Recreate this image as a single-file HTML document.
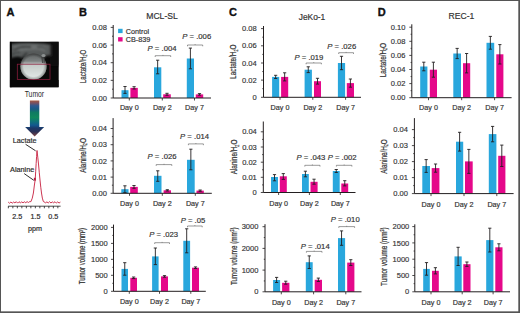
<!DOCTYPE html><html><head><meta charset="utf-8"><style>html,body{margin:0;padding:0;background:#fff;}svg{display:block;font-family:"Liberation Sans", sans-serif;}</style></head><body>
<svg width="520" height="313" viewBox="0 0 520 313">
<rect x="0" y="0" width="520" height="313" fill="#fff"/>
<text x="6.6" y="16.4" font-size="11" text-anchor="start" fill="#111" font-weight="bold" font-style="normal" stroke="#111" stroke-width="0.35" >A</text>
<text x="79.0" y="16.4" font-size="11" text-anchor="start" fill="#111" font-weight="bold" font-style="normal" stroke="#111" stroke-width="0.35" >B</text>
<text x="229.0" y="16.4" font-size="11" text-anchor="start" fill="#111" font-weight="bold" font-style="normal" stroke="#111" stroke-width="0.35" >C</text>
<text x="377.8" y="16.4" font-size="11" text-anchor="start" fill="#111" font-weight="bold" font-style="normal" stroke="#111" stroke-width="0.35" >D</text>
<text x="162" y="19.2" font-size="8.6" text-anchor="middle" fill="#333333" font-weight="normal" font-style="normal" stroke="#333333" stroke-width="0.18" >MCL-SL</text>
<text x="312.0" y="20.3" font-size="8.4" text-anchor="middle" fill="#333333" font-weight="normal" font-style="normal" stroke="#333333" stroke-width="0.18" >JeKo-1</text>
<text x="461.4" y="19.2" font-size="8.6" text-anchor="middle" fill="#333333" font-weight="normal" font-style="normal" stroke="#333333" stroke-width="0.18" >REC-1</text>
<rect x="118.1" y="28.8" width="4.5" height="4.3" fill="#29a7dd"/>
<rect x="118.1" y="37.2" width="4.5" height="4.3" fill="#e5088a"/>
<text x="125.8" y="33.6" font-size="7.25" text-anchor="start" fill="#333333" font-weight="normal" font-style="normal" stroke="#333333" stroke-width="0.18" >Control</text>
<text x="125.8" y="42.0" font-size="7.25" text-anchor="start" fill="#333333" font-weight="normal" font-style="normal" stroke="#333333" stroke-width="0.18" >CB-839</text>
<rect x="121.5" y="90.2" width="7.0" height="7.799999999999997" fill="#29a7dd"/>
<rect x="130.4" y="87.9" width="7.400000000000006" height="10.099999999999994" fill="#e5088a"/>
<path d="M125.0 86.5V93.4M123.4 86.5H126.6M123.4 93.4H126.6" stroke="#231f20" stroke-width="0.9" fill="none"/>
<path d="M134.10000000000002 86.7V89M132.50000000000003 86.7H135.70000000000002M132.50000000000003 89H135.70000000000002" stroke="#231f20" stroke-width="0.9" fill="none"/>
<rect x="154.0" y="67.3" width="7.300000000000011" height="30.700000000000003" fill="#29a7dd"/>
<rect x="163.2" y="94.3" width="7.600000000000023" height="3.700000000000003" fill="#e5088a"/>
<path d="M157.65 60.2V73.8M156.05 60.2H159.25M156.05 73.8H159.25" stroke="#231f20" stroke-width="0.9" fill="none"/>
<path d="M167.0 93.3V95.3M165.4 93.3H168.6M165.4 95.3H168.6" stroke="#231f20" stroke-width="0.9" fill="none"/>
<rect x="186.8" y="58.5" width="7.199999999999989" height="39.5" fill="#29a7dd"/>
<rect x="195.8" y="94.4" width="7.399999999999977" height="3.5999999999999943" fill="#e5088a"/>
<path d="M190.4 48.1V68.8M188.8 48.1H192.0M188.8 68.8H192.0" stroke="#231f20" stroke-width="0.9" fill="none"/>
<path d="M199.5 93.6V95.2M197.9 93.6H201.1M197.9 95.2H201.1" stroke="#231f20" stroke-width="0.9" fill="none"/>
<path d="M113.2 25V98H211" stroke="#231f20" stroke-width="1" fill="none"/>
<path d="M110.7 27.4H113.2M110.7 45.05H113.2M110.7 62.7H113.2M110.7 80.35H113.2M110.7 98H113.2M112.0 36.224999999999994H113.2M112.0 53.875H113.2M112.0 71.525H113.2M112.0 89.175H113.2M129.3 98V100.5M162.3 98V100.5M194.5 98V100.5" stroke="#231f20" stroke-width="0.8" fill="none"/>
<text transform="translate(107.00 30.00) scale(0.93 1)" font-size="8.1" text-anchor="end" fill="#333333" stroke="#333333" stroke-width="0.16">0.08</text>
<text transform="translate(107.00 47.65) scale(0.93 1)" font-size="8.1" text-anchor="end" fill="#333333" stroke="#333333" stroke-width="0.16">0.06</text>
<text transform="translate(107.00 65.30) scale(0.93 1)" font-size="8.1" text-anchor="end" fill="#333333" stroke="#333333" stroke-width="0.16">0.04</text>
<text transform="translate(107.00 82.95) scale(0.93 1)" font-size="8.1" text-anchor="end" fill="#333333" stroke="#333333" stroke-width="0.16">0.02</text>
<text transform="translate(107.00 100.60) scale(0.93 1)" font-size="8.1" text-anchor="end" fill="#333333" stroke="#333333" stroke-width="0.16">0.00</text>
<text x="129.3" y="110.2" font-size="7.2" text-anchor="middle" fill="#333333" font-weight="normal" font-style="normal" stroke="#333333" stroke-width="0.18" >Day 0</text>
<text x="162.3" y="110.2" font-size="7.2" text-anchor="middle" fill="#333333" font-weight="normal" font-style="normal" stroke="#333333" stroke-width="0.18" >Day 2</text>
<text x="194.5" y="110.2" font-size="7.2" text-anchor="middle" fill="#333333" font-weight="normal" font-style="normal" stroke="#333333" stroke-width="0.18" >Day 7</text>
<text x="147.6" y="51.300000000000004" font-size="7.7" fill="#333333" stroke="#333333" stroke-width="0.18"><tspan font-style="italic">P</tspan> = .004</text>
<path d="M155.2 57.0V55.7H170.7V57.0M162.95 55.7V54.900000000000006" stroke="#555" stroke-width="0.6" fill="none"/>
<text x="182.3" y="39.300000000000004" font-size="7.7" fill="#333333" stroke="#333333" stroke-width="0.18"><tspan font-style="italic">P</tspan> = .006</text>
<path d="M187.5 46.3V45.0H202.7V46.3M195.1 45.0V44.2" stroke="#555" stroke-width="0.6" fill="none"/>
<text transform="translate(85.6 66.4) rotate(-90) scale(0.7091,1)" font-size="8.8" text-anchor="middle" fill="#333333" stroke="#333333" stroke-width="0.22">Lactate/H<tspan font-size="5" dy="1.6">2</tspan><tspan dy="-1.6">O</tspan></text>
<rect x="121.3" y="189.2" width="7.200000000000003" height="4.100000000000023" fill="#29a7dd"/>
<rect x="130.2" y="186.9" width="7.600000000000023" height="6.400000000000006" fill="#e5088a"/>
<path d="M124.9 185.8V192.6M123.30000000000001 185.8H126.5M123.30000000000001 192.6H126.5" stroke="#231f20" stroke-width="0.9" fill="none"/>
<path d="M134.0 185.5V188.3M132.4 185.5H135.6M132.4 188.3H135.6" stroke="#231f20" stroke-width="0.9" fill="none"/>
<rect x="154.0" y="175.8" width="7.5" height="17.5" fill="#29a7dd"/>
<rect x="163.6" y="190.3" width="7.400000000000006" height="3.0" fill="#e5088a"/>
<path d="M157.75 170.8V181.3M156.15 170.8H159.35M156.15 181.3H159.35" stroke="#231f20" stroke-width="0.9" fill="none"/>
<path d="M167.3 189.7V191.0M165.70000000000002 189.7H168.9M165.70000000000002 191.0H168.9" stroke="#231f20" stroke-width="0.9" fill="none"/>
<rect x="187.0" y="159.8" width="7.699999999999989" height="33.5" fill="#29a7dd"/>
<rect x="196.5" y="190.6" width="7.300000000000011" height="2.700000000000017" fill="#e5088a"/>
<path d="M190.85 149.2V169.8M189.25 149.2H192.45M189.25 169.8H192.45" stroke="#231f20" stroke-width="0.9" fill="none"/>
<path d="M200.15 190.0V191.3M198.55 190.0H201.75M198.55 191.3H201.75" stroke="#231f20" stroke-width="0.9" fill="none"/>
<path d="M113.1 118.1V193.3H211.8" stroke="#231f20" stroke-width="1" fill="none"/>
<path d="M110.6 128.5H113.1M110.6 144.7H113.1M110.6 160.9H113.1M110.6 177.1H113.1M110.6 193.3H113.1M111.89999999999999 136.6H113.1M111.89999999999999 152.8H113.1M111.89999999999999 169.0H113.1M111.89999999999999 185.2H113.1M129.5 193.3V195.8M162.3 193.3V195.8M195.3 193.3V195.8" stroke="#231f20" stroke-width="0.8" fill="none"/>
<text transform="translate(107.00 131.10) scale(0.93 1)" font-size="8.1" text-anchor="end" fill="#333333" stroke="#333333" stroke-width="0.16">0.04</text>
<text transform="translate(107.00 147.30) scale(0.93 1)" font-size="8.1" text-anchor="end" fill="#333333" stroke="#333333" stroke-width="0.16">0.03</text>
<text transform="translate(107.00 163.50) scale(0.93 1)" font-size="8.1" text-anchor="end" fill="#333333" stroke="#333333" stroke-width="0.16">0.02</text>
<text transform="translate(107.00 179.70) scale(0.93 1)" font-size="8.1" text-anchor="end" fill="#333333" stroke="#333333" stroke-width="0.16">0.01</text>
<text transform="translate(107.00 195.90) scale(0.93 1)" font-size="8.1" text-anchor="end" fill="#333333" stroke="#333333" stroke-width="0.16">0.00</text>
<text x="129.5" y="206.3" font-size="7.2" text-anchor="middle" fill="#333333" font-weight="normal" font-style="normal" stroke="#333333" stroke-width="0.18" >Day 0</text>
<text x="162.3" y="206.3" font-size="7.2" text-anchor="middle" fill="#333333" font-weight="normal" font-style="normal" stroke="#333333" stroke-width="0.18" >Day 2</text>
<text x="195.3" y="206.3" font-size="7.2" text-anchor="middle" fill="#333333" font-weight="normal" font-style="normal" stroke="#333333" stroke-width="0.18" >Day 7</text>
<text x="147.6" y="159.29999999999998" font-size="7.7" fill="#333333" stroke="#333333" stroke-width="0.18"><tspan font-style="italic">P</tspan> = .026</text>
<path d="M156.2 165.9V164.6H171.8V165.9M164.0 164.6V163.79999999999998" stroke="#555" stroke-width="0.6" fill="none"/>
<text x="180.1" y="138.5" font-size="7.7" fill="#333333" stroke="#333333" stroke-width="0.18"><tspan font-style="italic">P</tspan> = .014</text>
<path d="M188.4 145.20000000000002V143.9H203.4V145.20000000000002M195.9 143.9V143.1" stroke="#555" stroke-width="0.6" fill="none"/>
<text transform="translate(85.8 155.5) rotate(-90) scale(0.7273,1)" font-size="8.8" text-anchor="middle" fill="#333333" stroke="#333333" stroke-width="0.22">Alanine/H<tspan font-size="5" dy="1.6">2</tspan><tspan dy="-1.6">O</tspan></text>
<rect x="121.5" y="268.9" width="6.5" height="22.400000000000034" fill="#29a7dd"/>
<rect x="130.3" y="277.8" width="6.699999999999989" height="13.5" fill="#e5088a"/>
<path d="M124.75 262.7V275.2M123.15 262.7H126.35M123.15 275.2H126.35" stroke="#231f20" stroke-width="0.9" fill="none"/>
<path d="M133.65 277.0V278.6M132.05 277.0H135.25M132.05 278.6H135.25" stroke="#231f20" stroke-width="0.9" fill="none"/>
<rect x="152.1" y="256.4" width="6.5" height="34.900000000000034" fill="#29a7dd"/>
<rect x="161.0" y="276.4" width="7.0" height="14.900000000000034" fill="#e5088a"/>
<path d="M155.35 248.0V264.6M153.75 248.0H156.95M153.75 264.6H156.95" stroke="#231f20" stroke-width="0.9" fill="none"/>
<path d="M164.5 275.6V277.2M162.9 275.6H166.1M162.9 277.2H166.1" stroke="#231f20" stroke-width="0.9" fill="none"/>
<rect x="183.3" y="240.8" width="6.799999999999983" height="50.5" fill="#29a7dd"/>
<rect x="192.0" y="267.7" width="7.0" height="23.600000000000023" fill="#e5088a"/>
<path d="M186.7 228.8V252.8M185.1 228.8H188.29999999999998M185.1 252.8H188.29999999999998" stroke="#231f20" stroke-width="0.9" fill="none"/>
<path d="M195.5 266.9V268.5M193.9 266.9H197.1M193.9 268.5H197.1" stroke="#231f20" stroke-width="0.9" fill="none"/>
<path d="M113.5 224.6V291.3H205.8" stroke="#231f20" stroke-width="1" fill="none"/>
<path d="M111.0 227.4H113.5M111.0 243.4H113.5M111.0 259.35H113.5M111.0 275.3H113.5M111.0 291.3H113.5M112.3 235.4H113.5M112.3 251.375H113.5M112.3 267.32500000000005H113.5M112.3 283.3H113.5M129.3 291.3V293.8M159.5 291.3V293.8M190.8 291.3V293.8" stroke="#231f20" stroke-width="0.8" fill="none"/>
<text transform="translate(107.70 230.00) scale(0.93 1)" font-size="8.1" text-anchor="end" fill="#333333" stroke="#333333" stroke-width="0.16">2000</text>
<text transform="translate(107.70 246.00) scale(0.93 1)" font-size="8.1" text-anchor="end" fill="#333333" stroke="#333333" stroke-width="0.16">1500</text>
<text transform="translate(107.70 261.95) scale(0.93 1)" font-size="8.1" text-anchor="end" fill="#333333" stroke="#333333" stroke-width="0.16">1000</text>
<text transform="translate(107.70 277.90) scale(0.93 1)" font-size="8.1" text-anchor="end" fill="#333333" stroke="#333333" stroke-width="0.16">500</text>
<text transform="translate(107.70 293.90) scale(0.93 1)" font-size="8.1" text-anchor="end" fill="#333333" stroke="#333333" stroke-width="0.16">0</text>
<text x="129.3" y="304.4" font-size="7.2" text-anchor="middle" fill="#333333" font-weight="normal" font-style="normal" stroke="#333333" stroke-width="0.18" >Day 0</text>
<text x="159.5" y="304.4" font-size="7.2" text-anchor="middle" fill="#333333" font-weight="normal" font-style="normal" stroke="#333333" stroke-width="0.18" >Day 2</text>
<text x="190.8" y="304.4" font-size="7.2" text-anchor="middle" fill="#333333" font-weight="normal" font-style="normal" stroke="#333333" stroke-width="0.18" >Day 7</text>
<text x="149.2" y="236.5" font-size="7.7" fill="#333333" stroke="#333333" stroke-width="0.18"><tspan font-style="italic">P</tspan> = .023</text>
<path d="M154.7 244.0V242.7H169.5V244.0M162.1 242.7V241.89999999999998" stroke="#555" stroke-width="0.6" fill="none"/>
<text x="180.7" y="222.7" font-size="7.7" fill="#333333" stroke="#333333" stroke-width="0.18"><tspan font-style="italic">P</tspan> = .05</text>
<path d="M187.5 227.3V226.0H202.2V227.3M194.85 226.0V225.2" stroke="#555" stroke-width="0.6" fill="none"/>
<text transform="translate(85.3 256.1) rotate(-90) scale(0.6909,1)" font-size="8.8" text-anchor="middle" fill="#333333" stroke="#333333" stroke-width="0.22">Tumor volume (mm<tspan font-size="5" dy="-2.8">3</tspan><tspan dy="2.8">)</tspan></text>
<rect x="272.1" y="76.9" width="7.099999999999966" height="20.39999999999999" fill="#29a7dd"/>
<rect x="281.1" y="76.9" width="7.099999999999966" height="20.39999999999999" fill="#e5088a"/>
<path d="M275.65 75.3V78.5M274.04999999999995 75.3H277.25M274.04999999999995 78.5H277.25" stroke="#231f20" stroke-width="0.9" fill="none"/>
<path d="M284.65 72.8V80.9M283.04999999999995 72.8H286.25M283.04999999999995 80.9H286.25" stroke="#231f20" stroke-width="0.9" fill="none"/>
<rect x="304.6" y="69.7" width="7.2999999999999545" height="27.599999999999994" fill="#29a7dd"/>
<rect x="314.0" y="81.2" width="7.0" height="16.099999999999994" fill="#e5088a"/>
<path d="M308.25 66.8V72.6M306.65 66.8H309.85M306.65 72.6H309.85" stroke="#231f20" stroke-width="0.9" fill="none"/>
<path d="M317.5 78.3V84.1M315.9 78.3H319.1M315.9 84.1H319.1" stroke="#231f20" stroke-width="0.9" fill="none"/>
<rect x="337.9" y="63.0" width="7.2000000000000455" height="34.3" fill="#29a7dd"/>
<rect x="346.8" y="83.1" width="7.199999999999989" height="14.200000000000003" fill="#e5088a"/>
<path d="M341.5 56.3V69.7M339.9 56.3H343.1M339.9 69.7H343.1" stroke="#231f20" stroke-width="0.9" fill="none"/>
<path d="M350.4 79.0V87.2M348.79999999999995 79.0H352.0M348.79999999999995 87.2H352.0" stroke="#231f20" stroke-width="0.9" fill="none"/>
<path d="M263.5 26V97.3H361" stroke="#231f20" stroke-width="1" fill="none"/>
<path d="M261.0 28.6H263.5M261.0 45.8H263.5M261.0 63.0H263.5M261.0 80.1H263.5M261.0 97.3H263.5M262.3 37.2H263.5M262.3 54.4H263.5M262.3 71.55H263.5M262.3 88.69999999999999H263.5M280.0 97.3V99.8M312.8 97.3V99.8M345.6 97.3V99.8" stroke="#231f20" stroke-width="0.8" fill="none"/>
<text transform="translate(256.60 31.20) scale(0.93 1)" font-size="8.1" text-anchor="end" fill="#333333" stroke="#333333" stroke-width="0.16">0.08</text>
<text transform="translate(256.60 48.40) scale(0.93 1)" font-size="8.1" text-anchor="end" fill="#333333" stroke="#333333" stroke-width="0.16">0.06</text>
<text transform="translate(256.60 65.60) scale(0.93 1)" font-size="8.1" text-anchor="end" fill="#333333" stroke="#333333" stroke-width="0.16">0.04</text>
<text transform="translate(256.60 82.70) scale(0.93 1)" font-size="8.1" text-anchor="end" fill="#333333" stroke="#333333" stroke-width="0.16">0.02</text>
<text transform="translate(256.60 99.90) scale(0.93 1)" font-size="8.1" text-anchor="end" fill="#333333" stroke="#333333" stroke-width="0.16">0</text>
<text x="280.0" y="110.2" font-size="7.2" text-anchor="middle" fill="#333333" font-weight="normal" font-style="normal" stroke="#333333" stroke-width="0.18" >Day 0</text>
<text x="312.8" y="110.2" font-size="7.2" text-anchor="middle" fill="#333333" font-weight="normal" font-style="normal" stroke="#333333" stroke-width="0.18" >Day 2</text>
<text x="345.6" y="110.2" font-size="7.2" text-anchor="middle" fill="#333333" font-weight="normal" font-style="normal" stroke="#333333" stroke-width="0.18" >Day 7</text>
<text x="294.5" y="60.2" font-size="7.7" fill="#333333" stroke="#333333" stroke-width="0.18"><tspan font-style="italic">P</tspan> = .019</text>
<path d="M306.1 64.3V63.0H321.4V64.3M313.75 63.0V62.2" stroke="#555" stroke-width="0.6" fill="none"/>
<text x="327.3" y="48.5" font-size="7.7" fill="#333333" stroke="#333333" stroke-width="0.18"><tspan font-style="italic">P</tspan> = .026</text>
<path d="M338.7 54.0V52.7H353.5V54.0M346.1 52.7V51.900000000000006" stroke="#555" stroke-width="0.6" fill="none"/>
<text transform="translate(235.9 61.7) rotate(-90) scale(0.7273,1)" font-size="8.8" text-anchor="middle" fill="#333333" stroke="#333333" stroke-width="0.22">Lactate/H<tspan font-size="5" dy="1.6">2</tspan><tspan dy="-1.6">O</tspan></text>
<rect x="271.0" y="177.0" width="7.0" height="15.5" fill="#29a7dd"/>
<rect x="279.8" y="176.3" width="7.0" height="16.19999999999999" fill="#e5088a"/>
<path d="M274.5 174.6V180.8M272.9 174.6H276.1M272.9 180.8H276.1" stroke="#231f20" stroke-width="0.9" fill="none"/>
<path d="M283.3 173.6V179.4M281.7 173.6H284.90000000000003M281.7 179.4H284.90000000000003" stroke="#231f20" stroke-width="0.9" fill="none"/>
<rect x="302.0" y="174.0" width="6.800000000000011" height="18.5" fill="#29a7dd"/>
<rect x="310.5" y="181.8" width="7.100000000000023" height="10.699999999999989" fill="#e5088a"/>
<path d="M305.4 171.2V176.8M303.79999999999995 171.2H307.0M303.79999999999995 176.8H307.0" stroke="#231f20" stroke-width="0.9" fill="none"/>
<path d="M314.05 179.2V184.2M312.45 179.2H315.65000000000003M312.45 184.2H315.65000000000003" stroke="#231f20" stroke-width="0.9" fill="none"/>
<rect x="332.8" y="171.0" width="6.899999999999977" height="21.5" fill="#29a7dd"/>
<rect x="341.3" y="183.5" width="6.899999999999977" height="9.0" fill="#e5088a"/>
<path d="M336.25 169.5V172.5M334.65 169.5H337.85M334.65 172.5H337.85" stroke="#231f20" stroke-width="0.9" fill="none"/>
<path d="M344.75 180.7V185.9M343.15 180.7H346.35M343.15 185.9H346.35" stroke="#231f20" stroke-width="0.9" fill="none"/>
<path d="M263.3 121.5V192.5H355.5" stroke="#231f20" stroke-width="1" fill="none"/>
<path d="M260.8 131.8H263.3M260.8 147.0H263.3M260.8 162.2H263.3M260.8 177.3H263.3M260.8 192.5H263.3M262.1 139.4H263.3M262.1 154.6H263.3M262.1 169.75H263.3M262.1 184.9H263.3M278.6 192.5V195.0M309.4 192.5V195.0M340.3 192.5V195.0" stroke="#231f20" stroke-width="0.8" fill="none"/>
<text transform="translate(256.80 134.40) scale(0.93 1)" font-size="8.1" text-anchor="end" fill="#333333" stroke="#333333" stroke-width="0.16">0.04</text>
<text transform="translate(256.80 149.60) scale(0.93 1)" font-size="8.1" text-anchor="end" fill="#333333" stroke="#333333" stroke-width="0.16">0.03</text>
<text transform="translate(256.80 164.80) scale(0.93 1)" font-size="8.1" text-anchor="end" fill="#333333" stroke="#333333" stroke-width="0.16">0.02</text>
<text transform="translate(256.80 179.90) scale(0.93 1)" font-size="8.1" text-anchor="end" fill="#333333" stroke="#333333" stroke-width="0.16">0.01</text>
<text transform="translate(256.80 195.10) scale(0.93 1)" font-size="8.1" text-anchor="end" fill="#333333" stroke="#333333" stroke-width="0.16">0</text>
<text x="278.6" y="205.8" font-size="7.2" text-anchor="middle" fill="#333333" font-weight="normal" font-style="normal" stroke="#333333" stroke-width="0.18" >Day 0</text>
<text x="309.4" y="205.8" font-size="7.2" text-anchor="middle" fill="#333333" font-weight="normal" font-style="normal" stroke="#333333" stroke-width="0.18" >Day 2</text>
<text x="340.3" y="205.8" font-size="7.2" text-anchor="middle" fill="#333333" font-weight="normal" font-style="normal" stroke="#333333" stroke-width="0.18" >Day 7</text>
<text x="296.4" y="159.5" font-size="7.7" fill="#333333" stroke="#333333" stroke-width="0.18"><tspan font-style="italic">P</tspan> = .043</text>
<path d="M304.8 166.60000000000002V165.3H320.0V166.60000000000002M312.4 165.3V164.5" stroke="#555" stroke-width="0.6" fill="none"/>
<text x="327.7" y="159.5" font-size="7.7" fill="#333333" stroke="#333333" stroke-width="0.18"><tspan font-style="italic">P</tspan> = .002</text>
<path d="M336.4 166.60000000000002V165.3H351.9V166.60000000000002M344.15 165.3V164.5" stroke="#555" stroke-width="0.6" fill="none"/>
<text transform="translate(237 157) rotate(-90) scale(0.7273,1)" font-size="8.8" text-anchor="middle" fill="#333333" stroke="#333333" stroke-width="0.22">Alanine/H<tspan font-size="5" dy="1.6">2</tspan><tspan dy="-1.6">O</tspan></text>
<rect x="273.1" y="280.0" width="7.0" height="11.800000000000011" fill="#29a7dd"/>
<rect x="282.1" y="282.8" width="7.2999999999999545" height="9.0" fill="#e5088a"/>
<path d="M276.6 277.4V282.5M275.0 277.4H278.20000000000005M275.0 282.5H278.20000000000005" stroke="#231f20" stroke-width="0.9" fill="none"/>
<path d="M285.75 281.2V284.2M284.15 281.2H287.35M284.15 284.2H287.35" stroke="#231f20" stroke-width="0.9" fill="none"/>
<rect x="305.8" y="262.2" width="6.899999999999977" height="29.600000000000023" fill="#29a7dd"/>
<rect x="314.7" y="279.8" width="7.300000000000011" height="12.0" fill="#e5088a"/>
<path d="M309.25 255.9V268.5M307.65 255.9H310.85M307.65 268.5H310.85" stroke="#231f20" stroke-width="0.9" fill="none"/>
<path d="M318.35 278.1V281.5M316.75 278.1H319.95000000000005M316.75 281.5H319.95000000000005" stroke="#231f20" stroke-width="0.9" fill="none"/>
<rect x="338.0" y="238.1" width="7.100000000000023" height="53.70000000000002" fill="#29a7dd"/>
<rect x="347.2" y="262.6" width="7.199999999999989" height="29.19999999999999" fill="#e5088a"/>
<path d="M341.55 230.9V245.3M339.95 230.9H343.15000000000003M339.95 245.3H343.15000000000003" stroke="#231f20" stroke-width="0.9" fill="none"/>
<path d="M350.79999999999995 259.7V265.5M349.19999999999993 259.7H352.4M349.19999999999993 265.5H352.4" stroke="#231f20" stroke-width="0.9" fill="none"/>
<path d="M265.0 224.2V291.8H361.5" stroke="#231f20" stroke-width="1" fill="none"/>
<path d="M262.5 226.7H265.0M262.5 248.4H265.0M262.5 270.1H265.0M262.5 291.8H265.0M263.8 237.55H265.0M263.8 259.25H265.0M263.8 280.95000000000005H265.0M281.3 291.8V294.3M313.6 291.8V294.3M345.8 291.8V294.3" stroke="#231f20" stroke-width="0.8" fill="none"/>
<text transform="translate(258.40 229.30) scale(0.93 1)" font-size="8.1" text-anchor="end" fill="#333333" stroke="#333333" stroke-width="0.16">3000</text>
<text transform="translate(258.40 251.00) scale(0.93 1)" font-size="8.1" text-anchor="end" fill="#333333" stroke="#333333" stroke-width="0.16">2000</text>
<text transform="translate(258.40 272.70) scale(0.93 1)" font-size="8.1" text-anchor="end" fill="#333333" stroke="#333333" stroke-width="0.16">1000</text>
<text transform="translate(258.40 294.40) scale(0.93 1)" font-size="8.1" text-anchor="end" fill="#333333" stroke="#333333" stroke-width="0.16">0</text>
<text x="281.3" y="305.0" font-size="7.2" text-anchor="middle" fill="#333333" font-weight="normal" font-style="normal" stroke="#333333" stroke-width="0.18" >Day 0</text>
<text x="313.6" y="305.0" font-size="7.2" text-anchor="middle" fill="#333333" font-weight="normal" font-style="normal" stroke="#333333" stroke-width="0.18" >Day 2</text>
<text x="345.8" y="305.0" font-size="7.2" text-anchor="middle" fill="#333333" font-weight="normal" font-style="normal" stroke="#333333" stroke-width="0.18" >Day 7</text>
<text x="300.8" y="248.5" font-size="7.7" fill="#333333" stroke="#333333" stroke-width="0.18"><tspan font-style="italic">P</tspan> = .014</text>
<path d="M306.4 252.70000000000002V251.4H322.0V252.70000000000002M314.2 251.4V250.6" stroke="#555" stroke-width="0.6" fill="none"/>
<text x="330.8" y="221.7" font-size="7.7" fill="#333333" stroke="#333333" stroke-width="0.18"><tspan font-style="italic">P</tspan> = .010</text>
<path d="M338.8 227.9V226.6H354.6V227.9M346.70000000000005 226.6V225.79999999999998" stroke="#555" stroke-width="0.6" fill="none"/>
<text transform="translate(237 256.2) rotate(-90) scale(0.7091,1)" font-size="8.8" text-anchor="middle" fill="#333333" stroke="#333333" stroke-width="0.22">Tumor volume (mm<tspan font-size="5" dy="-2.8">3</tspan><tspan dy="2.8">)</tspan></text>
<rect x="420.2" y="66.5" width="7.199999999999989" height="31.200000000000003" fill="#29a7dd"/>
<rect x="429.8" y="69.7" width="7.199999999999989" height="28.0" fill="#e5088a"/>
<path d="M423.79999999999995 62.2V70.8M422.19999999999993 62.2H425.4M422.19999999999993 70.8H425.4" stroke="#231f20" stroke-width="0.9" fill="none"/>
<path d="M433.4 62.2V77.2M431.79999999999995 62.2H435.0M431.79999999999995 77.2H435.0" stroke="#231f20" stroke-width="0.9" fill="none"/>
<rect x="453.3" y="53.5" width="7.699999999999989" height="44.2" fill="#29a7dd"/>
<rect x="463.0" y="63.2" width="7.199999999999989" height="34.5" fill="#e5088a"/>
<path d="M457.15 48.4V58.6M455.54999999999995 48.4H458.75M455.54999999999995 58.6H458.75" stroke="#231f20" stroke-width="0.9" fill="none"/>
<path d="M466.6 53.5V72.9M465.0 53.5H468.20000000000005M465.0 72.9H468.20000000000005" stroke="#231f20" stroke-width="0.9" fill="none"/>
<rect x="486.5" y="42.8" width="7.699999999999989" height="54.900000000000006" fill="#29a7dd"/>
<rect x="496.3" y="54.3" width="7.099999999999966" height="43.400000000000006" fill="#e5088a"/>
<path d="M490.35 36.4V49.2M488.75 36.4H491.95000000000005M488.75 49.2H491.95000000000005" stroke="#231f20" stroke-width="0.9" fill="none"/>
<path d="M499.85 44.6V64.0M498.25 44.6H501.45000000000005M498.25 64.0H501.45000000000005" stroke="#231f20" stroke-width="0.9" fill="none"/>
<path d="M411.8 24.3V97.7H511.6" stroke="#231f20" stroke-width="1" fill="none"/>
<path d="M409.3 27.2H411.8M409.3 41.3H411.8M409.3 55.4H411.8M409.3 69.5H411.8M409.3 83.6H411.8M409.3 97.7H411.8M410.6 34.25H411.8M410.6 48.349999999999994H411.8M410.6 62.45H411.8M410.6 76.55H411.8M410.6 90.65H411.8M428.5 97.7V100.2M461.7 97.7V100.2M494.6 97.7V100.2" stroke="#231f20" stroke-width="0.8" fill="none"/>
<text transform="translate(405.40 29.80) scale(0.93 1)" font-size="8.1" text-anchor="end" fill="#333333" stroke="#333333" stroke-width="0.16">0.10</text>
<text transform="translate(405.40 43.90) scale(0.93 1)" font-size="8.1" text-anchor="end" fill="#333333" stroke="#333333" stroke-width="0.16">0.08</text>
<text transform="translate(405.40 58.00) scale(0.93 1)" font-size="8.1" text-anchor="end" fill="#333333" stroke="#333333" stroke-width="0.16">0.06</text>
<text transform="translate(405.40 72.10) scale(0.93 1)" font-size="8.1" text-anchor="end" fill="#333333" stroke="#333333" stroke-width="0.16">0.04</text>
<text transform="translate(405.40 86.20) scale(0.93 1)" font-size="8.1" text-anchor="end" fill="#333333" stroke="#333333" stroke-width="0.16">0.02</text>
<text transform="translate(405.40 100.30) scale(0.93 1)" font-size="8.1" text-anchor="end" fill="#333333" stroke="#333333" stroke-width="0.16">0.00</text>
<text x="428.5" y="110.3" font-size="7.2" text-anchor="middle" fill="#333333" font-weight="normal" font-style="normal" stroke="#333333" stroke-width="0.18" >Day 0</text>
<text x="461.7" y="110.3" font-size="7.2" text-anchor="middle" fill="#333333" font-weight="normal" font-style="normal" stroke="#333333" stroke-width="0.18" >Day 2</text>
<text x="494.6" y="110.3" font-size="7.2" text-anchor="middle" fill="#333333" font-weight="normal" font-style="normal" stroke="#333333" stroke-width="0.18" >Day 7</text>
<text transform="translate(385.5 60.1) rotate(-90) scale(0.7273,1)" font-size="8.8" text-anchor="middle" fill="#333333" stroke="#333333" stroke-width="0.22">Lactate/H<tspan font-size="5" dy="1.6">2</tspan><tspan dy="-1.6">O</tspan></text>
<rect x="422.3" y="166.0" width="7.699999999999989" height="27.599999999999994" fill="#29a7dd"/>
<rect x="431.7" y="168.1" width="7.699999999999989" height="25.5" fill="#e5088a"/>
<path d="M426.15 159.6V172.4M424.54999999999995 159.6H427.75M424.54999999999995 172.4H427.75" stroke="#231f20" stroke-width="0.9" fill="none"/>
<path d="M435.54999999999995 164.0V172.2M433.94999999999993 164.0H437.15M433.94999999999993 172.2H437.15" stroke="#231f20" stroke-width="0.9" fill="none"/>
<rect x="456.0" y="141.7" width="7.199999999999989" height="51.900000000000006" fill="#29a7dd"/>
<rect x="465.0" y="161.4" width="7.699999999999989" height="32.19999999999999" fill="#e5088a"/>
<path d="M459.6 132.3V151.1M458.0 132.3H461.20000000000005M458.0 151.1H461.20000000000005" stroke="#231f20" stroke-width="0.9" fill="none"/>
<path d="M468.85 149.4V173.4M467.25 149.4H470.45000000000005M467.25 173.4H470.45000000000005" stroke="#231f20" stroke-width="0.9" fill="none"/>
<rect x="488.8" y="134.1" width="7.599999999999966" height="59.5" fill="#29a7dd"/>
<rect x="498.2" y="155.8" width="7.199999999999989" height="37.79999999999998" fill="#e5088a"/>
<path d="M492.6 126.4V141.8M491.0 126.4H494.20000000000005M491.0 141.8H494.20000000000005" stroke="#231f20" stroke-width="0.9" fill="none"/>
<path d="M501.79999999999995 145.1V166.5M500.19999999999993 145.1H503.4M500.19999999999993 166.5H503.4" stroke="#231f20" stroke-width="0.9" fill="none"/>
<path d="M414.4 118.1V193.6H513.6" stroke="#231f20" stroke-width="1" fill="none"/>
<path d="M411.9 129.6H414.4M411.9 145.6H414.4M411.9 161.6H414.4M411.9 177.6H414.4M411.9 193.6H414.4M413.2 137.6H414.4M413.2 153.6H414.4M413.2 169.6H414.4M413.2 185.6H414.4M431.0 193.6V196.1M464.0 193.6V196.1M496.8 193.6V196.1" stroke="#231f20" stroke-width="0.8" fill="none"/>
<text transform="translate(408.00 132.20) scale(0.93 1)" font-size="8.1" text-anchor="end" fill="#333333" stroke="#333333" stroke-width="0.16">0.04</text>
<text transform="translate(408.00 148.20) scale(0.93 1)" font-size="8.1" text-anchor="end" fill="#333333" stroke="#333333" stroke-width="0.16">0.03</text>
<text transform="translate(408.00 164.20) scale(0.93 1)" font-size="8.1" text-anchor="end" fill="#333333" stroke="#333333" stroke-width="0.16">0.02</text>
<text transform="translate(408.00 180.20) scale(0.93 1)" font-size="8.1" text-anchor="end" fill="#333333" stroke="#333333" stroke-width="0.16">0.01</text>
<text transform="translate(408.00 196.20) scale(0.93 1)" font-size="8.1" text-anchor="end" fill="#333333" stroke="#333333" stroke-width="0.16">0.00</text>
<text x="431.0" y="206.5" font-size="7.2" text-anchor="middle" fill="#333333" font-weight="normal" font-style="normal" stroke="#333333" stroke-width="0.18" >Day 0</text>
<text x="464.0" y="206.5" font-size="7.2" text-anchor="middle" fill="#333333" font-weight="normal" font-style="normal" stroke="#333333" stroke-width="0.18" >Day 2</text>
<text x="496.8" y="206.5" font-size="7.2" text-anchor="middle" fill="#333333" font-weight="normal" font-style="normal" stroke="#333333" stroke-width="0.18" >Day 7</text>
<text transform="translate(386.5 156.5) rotate(-90) scale(0.7182,1)" font-size="8.8" text-anchor="middle" fill="#333333" stroke="#333333" stroke-width="0.22">Alanine/H<tspan font-size="5" dy="1.6">2</tspan><tspan dy="-1.6">O</tspan></text>
<rect x="423.2" y="268.9" width="6.600000000000023" height="22.900000000000034" fill="#29a7dd"/>
<rect x="432.0" y="270.8" width="6.800000000000011" height="21.0" fill="#e5088a"/>
<path d="M426.5 262.6V275.2M424.9 262.6H428.1M424.9 275.2H428.1" stroke="#231f20" stroke-width="0.9" fill="none"/>
<path d="M435.4 267.7V273.9M433.79999999999995 267.7H437.0M433.79999999999995 273.9H437.0" stroke="#231f20" stroke-width="0.9" fill="none"/>
<rect x="454.5" y="256.4" width="7.199999999999989" height="35.400000000000034" fill="#29a7dd"/>
<rect x="463.3" y="264.2" width="7.199999999999989" height="27.600000000000023" fill="#e5088a"/>
<path d="M458.1 247.3V265.5M456.5 247.3H459.70000000000005M456.5 265.5H459.70000000000005" stroke="#231f20" stroke-width="0.9" fill="none"/>
<path d="M466.9 262.0V266.4M465.29999999999995 262.0H468.5M465.29999999999995 266.4H468.5" stroke="#231f20" stroke-width="0.9" fill="none"/>
<rect x="486.2" y="240.1" width="7.199999999999989" height="51.70000000000002" fill="#29a7dd"/>
<rect x="495.3" y="247.3" width="7.199999999999989" height="44.5" fill="#e5088a"/>
<path d="M489.79999999999995 228.2V252.0M488.19999999999993 228.2H491.4M488.19999999999993 252.0H491.4" stroke="#231f20" stroke-width="0.9" fill="none"/>
<path d="M498.9 243.8V250.8M497.29999999999995 243.8H500.5M497.29999999999995 250.8H500.5" stroke="#231f20" stroke-width="0.9" fill="none"/>
<path d="M414.8 224.3V291.8H510" stroke="#231f20" stroke-width="1" fill="none"/>
<path d="M412.3 226.6H414.8M412.3 242.9H414.8M412.3 259.2H414.8M412.3 275.5H414.8M412.3 291.8H414.8M413.6 234.75H414.8M413.6 251.05H414.8M413.6 267.35H414.8M413.6 283.65H414.8M431.0 291.8V294.3M462.2 291.8V294.3M493.1 291.8V294.3" stroke="#231f20" stroke-width="0.8" fill="none"/>
<text transform="translate(409.30 229.20) scale(0.93 1)" font-size="8.1" text-anchor="end" fill="#333333" stroke="#333333" stroke-width="0.16">2000</text>
<text transform="translate(409.30 245.50) scale(0.93 1)" font-size="8.1" text-anchor="end" fill="#333333" stroke="#333333" stroke-width="0.16">1500</text>
<text transform="translate(409.30 261.80) scale(0.93 1)" font-size="8.1" text-anchor="end" fill="#333333" stroke="#333333" stroke-width="0.16">1000</text>
<text transform="translate(409.30 278.10) scale(0.93 1)" font-size="8.1" text-anchor="end" fill="#333333" stroke="#333333" stroke-width="0.16">500</text>
<text transform="translate(409.30 294.40) scale(0.93 1)" font-size="8.1" text-anchor="end" fill="#333333" stroke="#333333" stroke-width="0.16">0</text>
<text x="431.0" y="305.0" font-size="7.2" text-anchor="middle" fill="#333333" font-weight="normal" font-style="normal" stroke="#333333" stroke-width="0.18" >Day 0</text>
<text x="462.2" y="305.0" font-size="7.2" text-anchor="middle" fill="#333333" font-weight="normal" font-style="normal" stroke="#333333" stroke-width="0.18" >Day 2</text>
<text x="493.1" y="305.0" font-size="7.2" text-anchor="middle" fill="#333333" font-weight="normal" font-style="normal" stroke="#333333" stroke-width="0.18" >Day 7</text>
<text transform="translate(387 256.6) rotate(-90) scale(0.7182,1)" font-size="8.8" text-anchor="middle" fill="#333333" stroke="#333333" stroke-width="0.22">Tumor volume (mm<tspan font-size="5" dy="-2.8">3</tspan><tspan dy="2.8">)</tspan></text>
<defs>
<radialGradient id="tum" cx="0.5" cy="0.65" r="0.55"><stop offset="0" stop-color="#e4eae8"/><stop offset="0.75" stop-color="#d4dcda"/><stop offset="1" stop-color="#9aa0a0"/></radialGradient>
<linearGradient id="arr" x1="0" y1="100.4" x2="0" y2="136.9" gradientUnits="userSpaceOnUse">
<stop offset="0" stop-color="#a85a40"/><stop offset="0.07" stop-color="#7a5060"/><stop offset="0.15" stop-color="#2c5890"/><stop offset="0.24" stop-color="#1a5a82"/><stop offset="0.33" stop-color="#0f7a62"/><stop offset="0.47" stop-color="#10885c"/><stop offset="0.58" stop-color="#0f7278"/><stop offset="0.68" stop-color="#12588e"/><stop offset="0.76" stop-color="#1c3868"/><stop offset="0.86" stop-color="#2c3055"/><stop offset="1" stop-color="#8a4840"/></linearGradient>
<linearGradient id="arrh" x1="0" y1="0" x2="1" y2="0"><stop offset="0" stop-color="#000" stop-opacity="0.15"/><stop offset="0.45" stop-color="#fff" stop-opacity="0.08"/><stop offset="1" stop-color="#000" stop-opacity="0.15"/></linearGradient>
<filter id="bl" x="-0.2" y="-0.2" width="1.4" height="1.4"><feGaussianBlur stdDeviation="0.8"/></filter><filter id="bl2" x="-0.2" y="-0.2" width="1.4" height="1.4"><feGaussianBlur stdDeviation="0.45"/></filter>
</defs>
<clipPath id="mri"><rect x="9.8" y="41.7" width="48.9" height="45.5"/></clipPath>
<linearGradient id="tg" x1="0" y1="53" x2="0" y2="80" gradientUnits="userSpaceOnUse"><stop offset="0" stop-color="#5a5e5e"/><stop offset="0.3" stop-color="#7e8282"/><stop offset="0.43" stop-color="#c4cac8"/><stop offset="1" stop-color="#e6ecea"/></linearGradient>
<radialGradient id="tv" cx="0.5" cy="0.5" r="0.5"><stop offset="0.75" stop-color="#000" stop-opacity="0"/><stop offset="1" stop-color="#000" stop-opacity="0.35"/></radialGradient>
<rect x="9.8" y="41.7" width="48.9" height="45.5" fill="#080808"/>
<g clip-path="url(#mri)"><g filter="url(#bl)">
<path d="M10 44 Q22 42 36 43 Q46 43 52 45 L52 56 Q46 54 44 58 L23 58 Q18 55 11 58 Z" fill="#565a5a"/>
<path d="M13 46 Q24 43.5 34 44.5 Q42 44.5 47 47 L45 52 Q40 49 32 50 Q22 50 15 53 Z" fill="#6a6e6e"/>
<path d="M14 50 Q22 45.5 31 47" stroke="#1a1a1a" stroke-width="1.3" fill="none"/>
<path d="M12 55 Q15 51 20 52" stroke="#202020" stroke-width="1" fill="none"/>
<path d="M37 47 Q42 46 46 49" stroke="#2a2a2a" stroke-width="1" fill="none"/>
<rect x="50" y="41" width="10" height="25" fill="#0a0a0a" opacity="0.75"/>
<path d="M20.5 70 Q19.5 58 27 53" stroke="#111" stroke-width="1.3" fill="none"/>
</g>
<g filter="url(#bl2)">
<circle cx="33.5" cy="66.6" r="13.1" fill="url(#tg)"/>
<circle cx="33.5" cy="66.6" r="13.1" fill="url(#tv)"/>
<path d="M42 57 L42.5 63 M44.5 58 L44 63" stroke="#333" stroke-width="0.8"/>
<ellipse cx="43.5" cy="55.5" rx="2" ry="1.6" fill="#8e9292"/>
</g>
<rect x="9.8" y="80" width="48.9" height="8" fill="#080808"/>
<rect x="9.8" y="41.7" width="2" height="46" fill="#080808"/>
</g>
<rect x="17.3" y="64.2" width="32.7" height="15.2" fill="none" stroke="#8e1e3e" stroke-width="0.75"/>
<text transform="translate(34.4 96.8) scale(0.81 1)" font-size="8.4" text-anchor="middle" fill="#2a2a2a">Tumor</text>
<path d="M29.9 100.4H39.3V127H44.2L34.6 136.6L25.1 127H29.9Z" fill="url(#arr)"/>
<text x="24.6" y="142.8" font-size="7.3" text-anchor="middle" fill="#2a2a2a" font-weight="normal" font-style="normal" stroke="#2a2a2a" stroke-width="0.18" >Lactate</text>
<text x="22.2" y="171.5" font-size="7.3" text-anchor="middle" fill="#2a2a2a" font-weight="normal" font-style="normal" stroke="#2a2a2a" stroke-width="0.18" >Alanine</text>
<path d="M25.6 144.3L35.6 150.8M24.2 173.6L33.8 180.3" stroke="#1a1a1a" stroke-width="0.9"/>
<rect x="33.9" y="177.8" width="2.1" height="2.8" fill="#a82044"/>
<path d="M8.20 202.05 L9.55 203.23 L10.90 202.02 L12.25 203.17 L13.60 202.04 L14.95 202.87 L16.30 201.71 L17.65 203.10 L19.00 201.73 L20.35 202.78 L21.70 201.94 L23.05 202.79 L24.40 201.80 L25.75 202.71 L27.10 201.64 L28.45 202.50 L29.80 201.56 L30.9 201.7 Q32.4 199 33.4 193 L34.4 185 L35.2 179.8 Q36.2 162 37.0 150.5 Q37.9 158 38.6 165 Q39.3 173 40 180 Q40.8 188 41.5 193 Q42.3 199 43.3 201.4 L44.2 202.1 L44.20 201.95 L45.55 202.82 L46.90 201.92 L48.25 202.91 L49.60 201.68 L50.95 202.97 L52.30 201.92 L53.65 202.82 L55.00 201.72 L56.35 203.07 L57.70 201.92 L59.05 203.04 L60.40 202.11" stroke="#c92a48" stroke-width="0.95" fill="none" stroke-linejoin="round"/>
<path d="M8.2 206.2H60.6M8.35 206.2V208.3M12.85 206.2V208.3M17.35 206.2V208.3M21.85 206.2V208.3M26.35 206.2V208.3M30.85 206.2V208.3M35.35 206.2V208.3M39.85 206.2V208.3M44.35 206.2V208.3M48.85 206.2V208.3M53.35 206.2V208.3M57.85 206.2V208.3" stroke="#1a1a1a" stroke-width="0.8" fill="none"/>
<text x="17.2" y="219.2" font-size="7.2" text-anchor="middle" fill="#2a2a2a" font-weight="normal" font-style="normal" stroke="#2a2a2a" stroke-width="0.18" >2.5</text>
<text x="35.4" y="219.2" font-size="7.2" text-anchor="middle" fill="#2a2a2a" font-weight="normal" font-style="normal" stroke="#2a2a2a" stroke-width="0.18" >1.5</text>
<text x="53.2" y="219.2" font-size="7.2" text-anchor="middle" fill="#2a2a2a" font-weight="normal" font-style="normal" stroke="#2a2a2a" stroke-width="0.18" >0.5</text>
<text x="35" y="230.6" font-size="7.2" text-anchor="middle" fill="#2a2a2a" font-weight="normal" font-style="normal" stroke="#2a2a2a" stroke-width="0.18" >ppm</text>
<rect x="0.5" y="0.5" width="518.5" height="311.5" fill="none" stroke="#555" stroke-width="1"/>
<rect x="518.6" y="0" width="1.4" height="313" fill="#555"/><rect x="0" y="311.7" width="520" height="1.3" fill="#555"/>
</svg></body></html>
